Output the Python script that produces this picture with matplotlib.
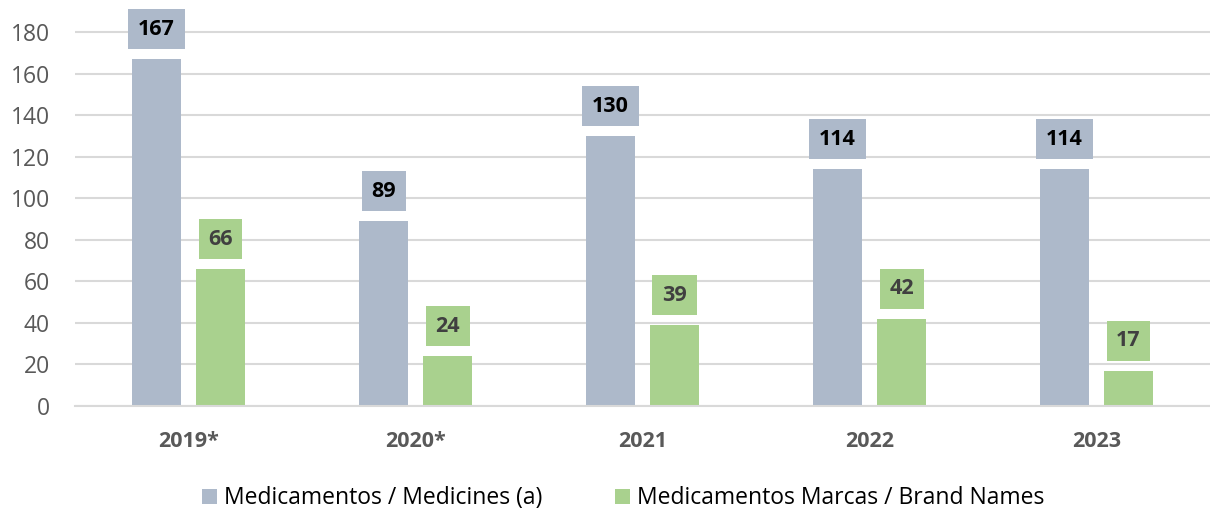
import numpy as np
import matplotlib
matplotlib.use("Agg")
from matplotlib import pyplot as plt

years = ["2019*", "2020*", "2021", "2022", "2023"]
medicines = [167, 89, 130, 114, 114]
brand_names = [66, 24, 39, 42, 17]
series_names = ["Medicamentos / Medicines (a)", "Medicamentos Marcas / Brand Names"]
yticks = [0, 20, 40, 60, 80, 100, 120, 140, 160, 180]

plt.rcParams['font.family'] = ['Open Sans', 'DejaVu Sans']

blue = "#adb9ca"
green = "#a9d18e"

fig = plt.figure(figsize=(12.1, 5.13), dpi=100)
ax = fig.add_axes([0.062, 0.2086, 0.938, 0.7694])

x = np.arange(len(years))
w = 0.22
off = 0.141
b1 = ax.bar(x - off, medicines, w, color=blue, label=series_names[0], zorder=2)
b2 = ax.bar(x + off, brand_names, w, color=green, label=series_names[1], zorder=2)

for bars, vals, col, tcol in [(b1, medicines, blue, "black"), (b2, brand_names, green, "#404040")]:
    for bar, v in zip(bars, vals):
        ax.annotate(str(v), (bar.get_x() + bar.get_width() / 2, v),
                    xytext=(0, 21.5), textcoords="offset points",
                    ha="center", va="center", fontsize=15.5, fontweight="bold",
                    color=tcol, annotation_clip=False, zorder=3,
                    bbox=dict(boxstyle="square,pad=0.45", fc=col, ec="none"))

ax.set_xlim(-0.5, 4.5)
ax.set_ylim(0, 190)
ax.set_yticks(yticks)
ax.set_xticks(x)
ax.set_xticklabels(years, fontweight="bold")
ax.tick_params(axis="y", length=0, labelsize=16.5, labelcolor="#595959", pad=18)
ax.tick_params(axis="x", length=0, labelsize=15.5, labelcolor="#595959", pad=18)
ax.yaxis.grid(True, color="#d9d9d9", linewidth=1.5, zorder=0)
for s in ["top", "right", "left"]:
    ax.spines[s].set_visible(False)
ax.spines["bottom"].set_color("#d9d9d9")
ax.spines["bottom"].set_linewidth(1.5)

fig.legend(loc="lower center", bbox_to_anchor=(0.515, -0.035), ncol=2, frameon=False,
           fontsize=16.5, handlelength=0.65, handleheight=0.65, handletextpad=0.3,
           columnspacing=3.2)

fig.savefig("out.png", dpi=100)
